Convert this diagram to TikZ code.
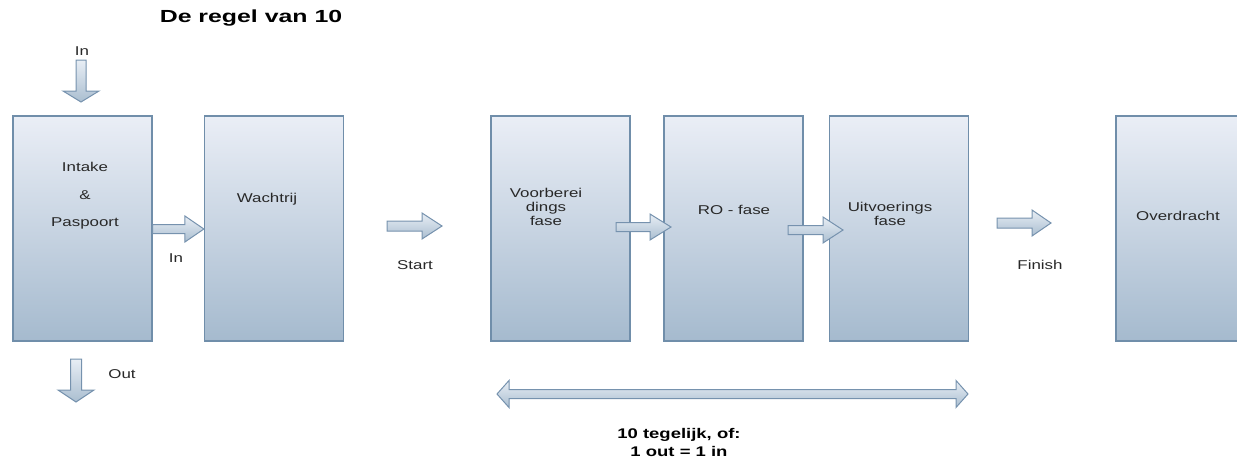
\documentclass[tikz,border=0pt]{standalone}
\usepackage{fontspec}
\setmainfont{Liberation Sans}
\newfontfamily\labfont[FakeStretch=1.32]{Liberation Sans}
\newfontfamily\ttlfont[FakeStretch=1.42]{Liberation Sans}
\usetikzlibrary{calc}
\definecolor{boxtop}{RGB}{234,238,246}
\definecolor{boxbot}{RGB}{165,186,206}
\definecolor{boxline}{RGB}{112,142,170}
\definecolor{arrtop}{RGB}{232,238,245}
\definecolor{arrbot}{RGB}{170,190,208}
\definecolor{arrline}{RGB}{118,146,174}
\definecolor{txt}{RGB}{40,40,40}

% horizontal block arrow: from, to, shaft half width, head half width, head length
\newcommand\hblk[5]{%
  \draw[blkarrow] ($(#1)+(0,#3)$) -- ($(#2)+(-#5,#3)$) -- ($(#2)+(-#5,#4)$) -- (#2)
    -- ($(#2)+(-#5,-#4)$) -- ($(#2)+(-#5,-#3)$) -- ($(#1)+(0,-#3)$) -- cycle;}
% vertical (downward) block arrow
\newcommand\vblk[5]{%
  \draw[blkarrow] ($(#1)+(#3,0)$) -- ($(#2)+(#3,-#5)$) -- ($(#2)+(#4,-#5)$) -- (#2)
    -- ($(#2)+(-#4,-#5)$) -- ($(#2)+(-#3,-#5)$) -- ($(#1)+(-#3,0)$) -- cycle;}
% double-headed horizontal block arrow
\newcommand\dblk[5]{%
  \draw[blkarrow] (#1) -- ($(#1)+(#5,-#4)$) -- ($(#1)+(#5,-#3)$) -- ($(#2)+(-#5,-#3)$)
    -- ($(#2)+(-#5,-#4)$) -- (#2) -- ($(#2)+(-#5,#4)$) -- ($(#2)+(-#5,#3)$)
    -- ($(#1)+(#5,#3)$) -- ($(#1)+(#5,#4)$) -- cycle;}

\tikzset{
  phase/.style={draw=boxline, line width=1.2pt, top color=boxtop, bottom color=boxbot,
    minimum width=139pt, minimum height=225pt, inner sep=0pt},
  blkarrow/.style={draw=arrline, line width=1pt, top color=arrtop, bottom color=arrbot,
    line join=miter},
  lab/.style={font=\labfont\fontsize{12.8}{14}\selectfont, text=txt, inner sep=0pt, align=center},
  boldlab/.style={font=\labfont\bfseries\fontsize{14}{18}\selectfont, text=black, inner sep=0pt, align=center},
  title/.style={font=\ttlfont\bfseries\fontsize{17.5}{20}\selectfont, text=black, inner sep=0pt}
}

\begin{document}
\begin{tikzpicture}[x=1pt, y=-1pt]
  \useasboundingbox (0,0) rectangle (1237,458);
  \clip (0,0) rectangle (1237,458);

  % phases
  \node[phase] (intake) at (82.5,228.5) {};
  \node[phase] (wacht)  at (274,228.5) {};
  \node[phase] (voor)   at (560.5,228.5) {};
  \node[phase] (ro)     at (733.5,228.5) {};
  \node[phase] (uitv)   at (899,228.5) {};
  \node[phase] (over)   at (1185.5,228.5) {};

  % texts inside the phases
  \node[lab] (tIntake) at (85,167) {Intake};
  \node[lab] (tAmp)    at (85,195) {\&};
  \node[lab] (tPas)    at (85,223) {Paspoort};
  \node[lab] (tWacht)  at (267,199) {Wachtrij};
  \node[lab] (tVoor)   at (546,207) {Voorberei\\dings\\fase};
  \node[lab] (tRO)     at (734,210) {RO - fase};
  \node[lab] (tUitv)   at (890,214) {Uitvoerings\\fase};
  \node[lab] (tOver)   at (1178,216) {Overdracht};

  % arrow end points
  \coordinate (inTop)   at (81,60);
  \coordinate (inTip)   at (81,102);
  \coordinate (a1s) at (intake.east |- 0,229);
  \coordinate (a1e) at (wacht.west |- 0,229);
  \coordinate (stS) at (387,226);
  \coordinate (stE) at (442,226);
  \coordinate (a2s) at (616,227);
  \coordinate (a2e) at (671,227);
  \coordinate (a3s) at (788,230);
  \coordinate (a3e) at (843,230);
  \coordinate (fiS) at (997,223);
  \coordinate (fiE) at (1051,223);
  \coordinate (outTop) at (76,359);
  \coordinate (outTip) at (76,402);
  \coordinate (dL) at (497,394);
  \coordinate (dR) at (968,394);

  % block arrows
  \vblk{inTop}{inTip}{5}{18}{11}
  \hblk{a1s}{a1e}{4.5}{13}{19}
  \hblk{stS}{stE}{5}{13}{20}
  \hblk{a2s}{a2e}{4.5}{13}{21}
  \hblk{a3s}{a3e}{4.5}{13}{20}
  \hblk{fiS}{fiE}{5}{13}{19}
  \vblk{outTop}{outTip}{5.5}{18}{12}
  \dblk{dL}{dR}{4.5}{13.5}{12}

  % arrow labels
  \node[lab] (lIn1)   at (82,51)   {In};
  \node[lab] (lIn2)   at (176,258) {In};
  \node[lab] (lStart) at (415,265) {Start};
  \node[lab] (lFin)   at (1040,265) {Finish};
  \node[lab] (lOut)   at (122,374) {Out};
  \node[boldlab] (lTen) at (679,442) {10 tegelijk, of:\\1 out = 1 in};

  % title
  \node[title] (ttl) at (251,18) {De regel van 10};
\end{tikzpicture}
\end{document}
